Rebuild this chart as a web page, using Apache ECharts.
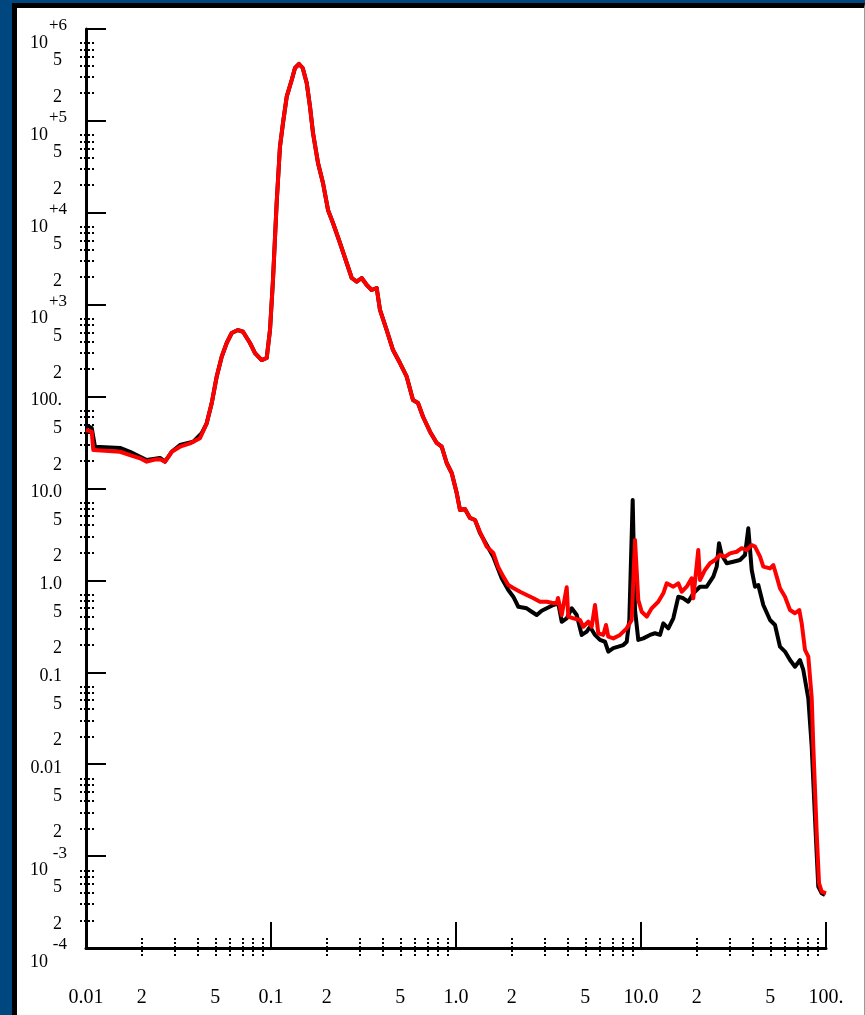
<!DOCTYPE html>
<html><head><meta charset="utf-8">
<script src="https://cdn.jsdelivr.net/npm/echarts@6/dist/echarts.min.js"></script>
<style>
html,body{margin:0;padding:0;width:865px;height:1015px;overflow:hidden;background:#00477f;}
#frame{position:absolute;left:12px;top:3px;width:847px;height:1007px;background:#fff;border-left:5px solid #000;border-top:5px solid #000;border-right:1px solid #9a9a9a;}
#chart{position:absolute;left:0;top:0;width:865px;height:1015px;}
</style></head><body>
<div id="frame"></div><div id="chart"></div>
<script>
// ---------- data ----------
const redStartX   = [0.01, 0.01074, 0.01095, 0.01527, 0.01729, 0.01958, 0.02128, 0.0236, 0.0251, 0.02673, 0.02905, 0.03222, 0.03649, 0.04132];
const redStartY   = [43.3, 41.5, 26.2, 25.1, 23.1, 21.3, 19.6, 20.7, 20.8, 19.6, 25.1, 28.5, 31.0, 35.2];
const blackStartX = [0.01, 0.01074, 0.01118, 0.01527, 0.01729, 0.02128, 0.0251, 0.02673, 0.02905, 0.03222, 0.03802, 0.0422];
const blackStartY = [49.1, 45.5, 28.5, 27.6, 25.1, 20.4, 21.5, 19.6, 25.1, 29.7, 32.3, 39.9];
const sharedX = [0.04491, 0.0478, 0.05086, 0.05414, 0.05762, 0.06134, 0.06632, 0.07058, 0.077, 0.08195, 0.08906, 0.0948, 0.09876,
  0.1025, 0.1073, 0.1118, 0.1161, 0.1216, 0.1294, 0.1348, 0.1417, 0.1484, 0.156, 0.1625, 0.1687, 0.1795, 0.191, 0.2033, 0.2163,
  0.236, 0.2566, 0.2731, 0.2906, 0.3092, 0.3292, 0.3501, 0.3726, 0.3883, 0.422, 0.4565, 0.498, 0.5414, 0.5855, 0.6231, 0.6633,
  0.7237, 0.7864, 0.837, 0.8906, 0.948, 1.009, 1.051, 1.118, 1.19, 1.267];
const sharedY = [51.2, 84.6, 164.7, 271.8, 383, 492, 530, 508, 383, 298, 250, 263, 530,
  1857, 12780, 52400, 94870, 183400, 278600, 376300, 416100, 376300, 258500, 142700, 73850, 34830, 21100, 10730, 7745,
  4692, 2843, 1952, 1780, 1952, 1639, 1445, 1520, 876, 530, 321, 232, 164.7, 91.8, 85.2, 60.4,
  41.5, 31.3, 28.5, 18.95, 14.75, 8.93, 5.84, 5.98, 4.78, 4.54];
const redTailX = [1.348, 1.465, 1.591, 1.687, 1.802, 1.917, 2.04, 2.218, 2.411, 2.608, 2.845, 3.093, 3.291, 3.502, 3.559, 3.727,
  3.966, 4.046, 4.306, 4.681, 4.877, 5.189, 5.413, 5.641, 5.877, 6.255, 6.469, 6.657, 7.084, 7.7, 8.37, 8.907, 9.282, 9.669,
  10.09, 10.74, 11.42, 12.40, 13.20, 13.77, 14.95, 15.91, 16.60, 17.66, 18.79, 19.17, 20.40, 20.84, 22.18, 23.60, 25.12,
  26.73, 28.45, 30.28, 32.91, 35.02, 37.27, 39.67, 41.33, 43.98, 45.83, 49.82, 51.90, 54.14, 56.41, 60.02, 63.89, 67.99,
  71.73, 73.90, 77.01, 80.24, 83.70, 85.40, 89.07, 91.67, 94.80, 100];
const redTailY = [3.36, 2.33, 1.99, 1.41, 1.10, 0.891, 0.827, 0.753, 0.694, 0.644, 0.586, 0.586, 0.572, 0.563, 0.644, 0.420,
  0.841, 0.403, 0.387, 0.371, 0.313, 0.355, 0.313, 0.540, 0.266, 0.255, 0.327, 0.244, 0.234, 0.255, 0.301, 0.371, 2.75, 0.612,
  0.456, 0.403, 0.497, 0.586, 0.724, 0.930, 0.854, 0.930, 0.753, 0.854, 1.054, 0.639, 2.14, 1.01, 1.30, 1.535, 1.667,
  1.89, 1.81, 1.97, 2.05, 2.24, 2.14, 2.43, 2.33, 1.81, 1.41, 1.35, 1.47, 1.10, 0.821, 0.665, 0.476, 0.439,
  0.476, 0.341, 0.175, 0.148, 0.0525, 0.0155, 0.00177, 0.00051, 0.00041, 0.000394];
const blackTailX = [1.348, 1.591, 1.766, 1.917, 2.04, 2.172, 2.411, 2.566, 2.731, 2.906, 3.093, 3.357, 3.573, 3.727, 3.966,
  4.221, 4.492, 4.781, 5.088, 5.301, 5.641, 6.002, 6.389, 6.657, 7.084, 7.539, 8.024, 8.370, 8.646, 9.018, 9.282, 9.669,
  10.29, 11.18, 11.90, 12.67, 13.20, 14.05, 14.95, 15.91, 16.93, 18.02, 19.17, 20.84, 22.65, 24.59, 25.66, 26.41, 27.31,
  29.06, 31.55, 34.28, 36.49, 38.02, 39.67, 41.33, 43.06, 45.83, 49.82, 53.01, 56.41, 60.02, 63.89, 67.99, 72.36, 75.39,
  80.24, 83.70, 87.97, 90.85, 94.80, 98.77];
const blackTailY = [3.28, 1.811, 1.054, 0.786, 0.665, 0.517, 0.497, 0.456, 0.420, 0.468, 0.497, 0.540, 0.563, 0.355, 0.387,
  0.497, 0.420, 0.255, 0.277, 0.313, 0.255, 0.225, 0.215, 0.168, 0.183, 0.190, 0.198, 0.215, 0.371, 7.50, 0.476, 0.225,
  0.234, 0.255, 0.266, 0.255, 0.341, 0.301, 0.387, 0.665, 0.639, 0.586, 0.724, 0.854, 0.854, 1.097, 1.409, 2.533, 1.890,
  1.535, 1.597, 1.667, 1.890, 3.689, 1.298, 0.854, 0.891, 0.540, 0.371, 0.327, 0.190, 0.168, 0.136, 0.115, 0.136, 0.106,
  0.0521, 0.0155, 0.00178, 0.000465, 0.000394, 0.000377];

// ---------- axes: ticks and labels ----------
const xDecades = [0.01, 0.1, 1, 10, 100];
const xDecadeLabels = ['0.01', '0.1', '1.0', '10.0', '100.'];
const yDecades = [1e-4, 1e-3, 0.01, 0.1, 1, 10, 100, 1e3, 1e4, 1e5, 1e6];
const yDecadeLabels = ['10^-4', '10^-3', '0.01', '0.1', '1.0', '10.0', '100.', '10^+3', '10^+4', '10^+5', '10^+6'];
const labelledMantissas = [2, 5];
const xMinorMantissas = [2, 3, 4, 5, 6, 7, 8, 9];
const yMinorMantissas = [2, 3, 4, 5, 6, 7];

function pairs(xs, ys) { return xs.map((x, i) => [x, ys[i]]); }
const redData = pairs(redStartX.concat(sharedX, redTailX), redStartY.concat(sharedY, redTailY));
const blackData = pairs(blackStartX.concat(sharedX, blackTailX), blackStartY.concat(sharedY, blackTailY));

function minorValues(decades, mantissas) {
  const out = [];
  for (let i = 0; i < decades.length - 1; i++) for (const m of mantissas) out.push(+(m * decades[i]).toPrecision(6));
  return out;
}
const xMinorTicks = minorValues(xDecades, xMinorMantissas);
const yMinorTicks = minorValues(yDecades, yMinorMantissas);
const xLabelValues = xDecades.concat(minorValues(xDecades, labelledMantissas));
const yLabelValues = yDecades.concat(minorValues(yDecades, labelledMantissas));

function decadeIndex(decades, v) {
  const e = Math.log10(v);
  for (let i = 0; i < decades.length; i++) if (Math.abs(Math.log10(decades[i]) - e) < 1e-6) return i;
  return -1;
}
function mantissa(v) { return Math.round(v / Math.pow(10, Math.floor(Math.log10(v) + 1e-9))); }

const serif = 'Liberation Serif';
const chart = echarts.init(document.getElementById('chart'), null, {renderer: 'canvas'});

const majorTickStyle = {color: '#000', width: 2};
const minorTickStyle = {color: '#000', width: 2, type: [2, 2]};

chart.setOption({
  animation: false,
  backgroundColor: 'transparent',
  grid: {left: 86, right: 39, top: 29, bottom: 67, containLabel: false},
  xAxis: [
    {
      type: 'log', logBase: 10, min: 0.01, max: 100, position: 'bottom',
      axisLine: {show: true, lineStyle: {color: '#000', width: 3}},
      axisTick: {show: true, inside: true, length: 26, customValues: xDecades, lineStyle: majorTickStyle},
      splitLine: {show: false}, minorTick: {show: false},
      axisLabel: {
        show: true, customValues: xLabelValues, margin: 40, color: '#000',
        fontFamily: serif, fontSize: 20, lineHeight: 20,
        formatter: function (v) {
          const i = decadeIndex(xDecades, v);
          return i >= 0 ? xDecadeLabels[i] : String(mantissa(v));
        }
      }
    },
    {
      type: 'log', logBase: 10, min: 0.01, max: 100, position: 'bottom', offset: 8,
      axisLine: {show: false},
      axisTick: {show: true, inside: true, length: 20, customValues: xMinorTicks, lineStyle: minorTickStyle},
      axisLabel: {show: false}, splitLine: {show: false}
    }
  ],
  yAxis: [
    {
      type: 'log', logBase: 10, min: 1e-4, max: 1e6, position: 'left',
      axisLine: {show: true, lineStyle: {color: '#000', width: 3}},
      axisTick: {show: true, inside: true, length: 20, customValues: yDecades, lineStyle: majorTickStyle},
      splitLine: {show: false}, minorTick: {show: false},
      axisLabel: {
        show: true, customValues: yLabelValues, margin: 19, color: '#000',
        fontFamily: serif, fontSize: 18, align: 'right',
        formatter: function (v) {
          const i = decadeIndex(yDecades, v);
          if (i >= 0) {
            const t = yDecadeLabels[i];
            if (t.indexOf('^') >= 0) {
              const p = t.split('^');
              return '{e|' + p[1] + '}\n{b|' + p[0] + '}';
            }
            return '{n|' + t + '}';
          }
          return '{n|' + mantissa(v) + '}';
        },
        rich: {
          n: {fontFamily: serif, fontSize: 18, lineHeight: 18, color: '#000', padding: [8, 5, 0, 0]},
          e: {fontFamily: serif, fontSize: 17, lineHeight: 14, color: '#000', padding: [12, 0, 0, 0]},
          b: {fontFamily: serif, fontSize: 18, lineHeight: 18, color: '#000', padding: [14, 19, 0, 0]}
        }
      }
    },
    {
      type: 'log', logBase: 10, min: 1e-4, max: 1e6, position: 'left', offset: 6,
      axisLine: {show: false},
      axisTick: {show: true, inside: true, length: 16, customValues: yMinorTicks, lineStyle: minorTickStyle},
      axisLabel: {show: false}, splitLine: {show: false}
    }
  ],
  series: [
    {type: 'line', name: 'black', data: blackData, xAxisIndex: 0, yAxisIndex: 0, showSymbol: false, symbol: 'none',
     lineStyle: {color: '#000000', width: 4, join: 'round'}, itemStyle: {color: '#000000'}, z: 2},
    {type: 'line', name: 'red', data: redData, xAxisIndex: 0, yAxisIndex: 0, showSymbol: false, symbol: 'none',
     lineStyle: {color: '#ff0000', width: 4, join: 'round'}, itemStyle: {color: '#ff0000'}, z: 3}
  ]
});
</script></body></html>
